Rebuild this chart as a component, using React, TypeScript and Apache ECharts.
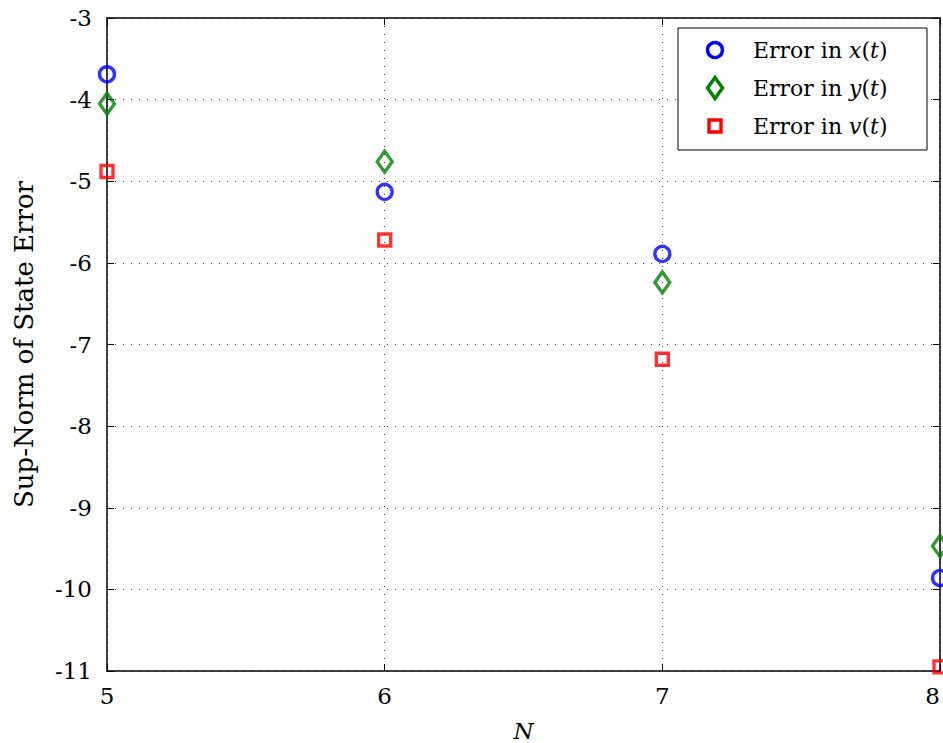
import React, { useEffect, useRef } from "react";
import * as echarts from "echarts";

const nValues = [5, 6, 7, 8];
const errX = [-3.69, -5.13, -5.89, -9.86];
const errY = [-4.05, -4.76, -6.24, -9.47];
const errV = [-4.88, -5.72, -7.18, -10.95];
const legendLabels = ["Error in {i|x}({i|t})", "Error in {i|y}({i|t})", "Error in {i|v}({i|t})"];

const FONT = "DejaVu Serif";
const FS = 23;
const LFS = 22;

export default function App() {
  const ref = useRef<HTMLDivElement>(null);
  useEffect(() => {
    if (!ref.current) return;
    const chart = echarts.init(ref.current, undefined, { renderer: "svg" });
    const toPairs = (ys: number[]) => nValues.map((n, i) => [n, ys[i]]);
    const gridLine = { show: true, lineStyle: { color: "#444", width: 1, type: [1, 7] as any } };
    const legendX = 715;
    const rowY = [50, 88, 126];
    const rich = { i: { fontStyle: "italic", fontFamily: FONT, fontSize: LFS, fill: "#000" } };
    const tick = { show: true, inside: true, length: 7, lineStyle: { color: "#000", width: 1 } };
    const line = { show: true, lineStyle: { color: "#000", width: 1.5 } };
    const bw = 3.4;
    chart.setOption({
      animation: false,
      backgroundColor: "#fff",
      grid: { left: 107, right: 3, top: 18, bottom: 72, show: false, containLabel: false, outerBoundsMode: "none" },
      xAxis: [
        {
          type: "value", min: 5, max: 8, interval: 1,
          name: "N", nameLocation: "middle", nameGap: 48,
          nameTextStyle: { fontFamily: FONT, fontSize: FS, fontStyle: "italic", color: "#000" },
          axisLine: line, axisTick: tick,
          axisLabel: { fontFamily: FONT, fontSize: FS, color: "#000", margin: 13, alignMaxLabel: "right" },
          splitLine: gridLine,
        },
        {
          type: "value", min: 5, max: 8, interval: 1, position: "top",
          axisLine: line, axisTick: tick,
          axisLabel: { show: false }, splitLine: { show: false },
        },
      ],
      yAxis: [
        {
          type: "value", min: -11, max: -3, interval: 1,
          name: "Sup-Norm of State Error", nameLocation: "middle", nameGap: 70,
          nameTextStyle: { fontFamily: FONT, fontSize: 26, color: "#000" },
          axisLine: line, axisTick: tick,
          axisLabel: { fontFamily: FONT, fontSize: FS, color: "#000", margin: 15 },
          splitLine: gridLine,
        },
        {
          type: "value", min: -11, max: -3, interval: 1, position: "right",
          axisLine: line, axisTick: tick,
          axisLabel: { show: false }, splitLine: { show: false },
        },
      ],
      series: [
        {
          name: "Error in x(t)", type: "scatter", data: toPairs(errX), clip: false,
          symbol: "circle", symbolSize: 15,
          itemStyle: { color: "rgba(0,0,0,0)", borderColor: "#0000ff", borderWidth: bw },
        },
        {
          name: "Error in y(t)", type: "scatter", data: toPairs(errY), clip: false,
          symbol: "diamond", symbolSize: [15, 21],
          itemStyle: { color: "rgba(0,0,0,0)", borderColor: "#008000", borderWidth: bw },
        },
        {
          name: "Error in v(t)", type: "scatter", data: toPairs(errV), clip: false,
          symbol: "rect", symbolSize: 12,
          itemStyle: { color: "rgba(0,0,0,0)", borderColor: "#ff0000", borderWidth: bw },
        },
      ],
      graphic: [
        { type: "rect", shape: { x: 678, y: 28, width: 249, height: 122 },
          style: { fill: "#fff", stroke: "#000", lineWidth: 1 }, z: 100 },
        { type: "circle", shape: { cx: legendX, cy: rowY[0], r: 7.5 },
          style: { fill: "none", stroke: "#0000ff", lineWidth: bw }, z: 101 },
        { type: "polygon", shape: { points: [[legendX, rowY[1] - 10.5], [legendX + 7.5, rowY[1]], [legendX, rowY[1] + 10.5], [legendX - 7.5, rowY[1]]] },
          style: { fill: "none", stroke: "#008000", lineWidth: bw }, z: 101 },
        { type: "rect", shape: { x: legendX - 6, y: rowY[2] - 6, width: 12, height: 12 },
          style: { fill: "none", stroke: "#ff0000", lineWidth: bw }, z: 101 },
        ...legendLabels.map((t, i) => ({
          type: "text", x: 753, y: rowY[i], z: 101,
          style: { text: t, fontFamily: FONT, fontSize: LFS, fill: "#000", verticalAlign: "middle", textAlign: "left", rich },
        })),
      ],
    });
    return () => chart.dispose();
  }, []);
  return <div ref={ref} style={{ position: "fixed", left: 0, top: 0, width: 943, height: 743 }} />;
}
